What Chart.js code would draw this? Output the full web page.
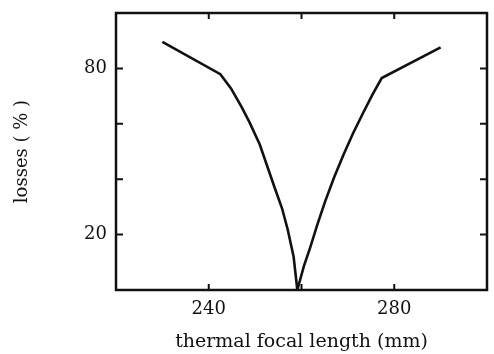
<!DOCTYPE html>
<html>
<head>
<meta charset="utf-8">
<script src="https://cdn.jsdelivr.net/npm/chart.js@4/dist/chart.umd.min.js"></script>
<style>
  html, body { margin: 0; padding: 0; background: #fff; }
  #c { display: block; }
</style>
</head>
<body>
<canvas id="c" width="494" height="354"></canvas>
<script>
// thermal focal length (mm) vs losses (%)
var focalLength = [230, 242.5, 244.8, 247.1, 248.8, 251, 254.2, 255.8, 257, 258.3, 259.1,
                   260.5, 261.9, 263.4, 265.1, 267, 269.1, 271.1, 273.3, 275.3, 277.3, 290];
var losses = [89.6, 77.9, 72.8, 66, 60.5, 52.5, 37, 29.5, 22, 12, 0,
              8.5, 15.5, 23.5, 32, 40.5, 49, 56.5, 64, 70.5, 76.5, 87.6];

var xTicks = [240, 260, 280];
var xLabels = [240, 280];
var yTicks = [20, 40, 60, 80];
var yLabels = [20, 80];

var points = focalLength.map(function (v, i) { return { x: v, y: losses[i] }; });

// box frame + inward tick marks
var framePlugin = {
    id: 'frame',
    afterDraw: function (chart) {
        var ctx = chart.ctx, a = chart.chartArea;
        var xs = chart.scales.x, ys = chart.scales.y;
        ctx.save();
        ctx.strokeStyle = '#111';
        ctx.lineWidth = 2.5;
        ctx.strokeRect(a.left, a.top, a.right - a.left, a.bottom - a.top);
        ctx.lineWidth = 2;
        ctx.beginPath();
        xTicks.forEach(function (v) {
            var px = xs.getPixelForValue(v);
            ctx.moveTo(px, a.bottom); ctx.lineTo(px, a.bottom - 6);
            ctx.moveTo(px, a.top); ctx.lineTo(px, a.top + 6);
        });
        yTicks.forEach(function (v) {
            var py = ys.getPixelForValue(v);
            ctx.moveTo(a.left, py); ctx.lineTo(a.left + 7, py);
            ctx.moveTo(a.right, py); ctx.lineTo(a.right - 7, py);
        });
        ctx.stroke();
        ctx.restore();
    }
};

var serif = { family: 'DejaVu Serif', size: 18 };

new Chart(document.getElementById('c').getContext('2d'), {
    type: 'scatter',
    data: {
        datasets: [{
            data: points,
            showLine: true,
            borderColor: '#111',
            borderWidth: 2.6,
            pointRadius: 0,
            tension: 0
        }]
    },
    options: {
        responsive: false,
        animation: false,
        layout: { padding: { left: 4, top: 13, right: 7, bottom: 0 } },
        plugins: { legend: { display: false }, tooltip: { enabled: false } },
        scales: {
            x: {
                type: 'linear', min: 220, max: 300,
                grid: { display: false, drawTicks: false },
                border: { display: false },
                ticks: {
                    stepSize: 20, padding: 9, color: '#111', font: serif, maxRotation: 0,
                    callback: function (v) { return xLabels.indexOf(v) >= 0 ? v : ''; }
                },
                title: { display: true, text: 'thermal focal length (mm)', color: '#111',
                         font: { family: 'DejaVu Serif', size: 19 }, padding: { top: 0, bottom: 1 } },
                afterFit: function (s) { s.height = 64; s.paddingLeft = 0; s.paddingRight = 0; }
            },
            y: {
                min: 0, max: 100,
                grid: { display: false, drawTicks: false },
                border: { display: false },
                ticks: {
                    stepSize: 20, padding: 9, color: '#111', font: serif,
                    callback: function (v) { return yLabels.indexOf(v) >= 0 ? v : ''; }
                },
                title: { display: true, text: 'losses ( % )', color: '#111', font: serif, padding: { top: 8, bottom: 0 } },
                afterFit: function (s) { s.width = 112; s.paddingTop = 0; s.paddingBottom = 0; }
            }
        }
    },
    plugins: [framePlugin]
});
</script>
</body>
</html>
